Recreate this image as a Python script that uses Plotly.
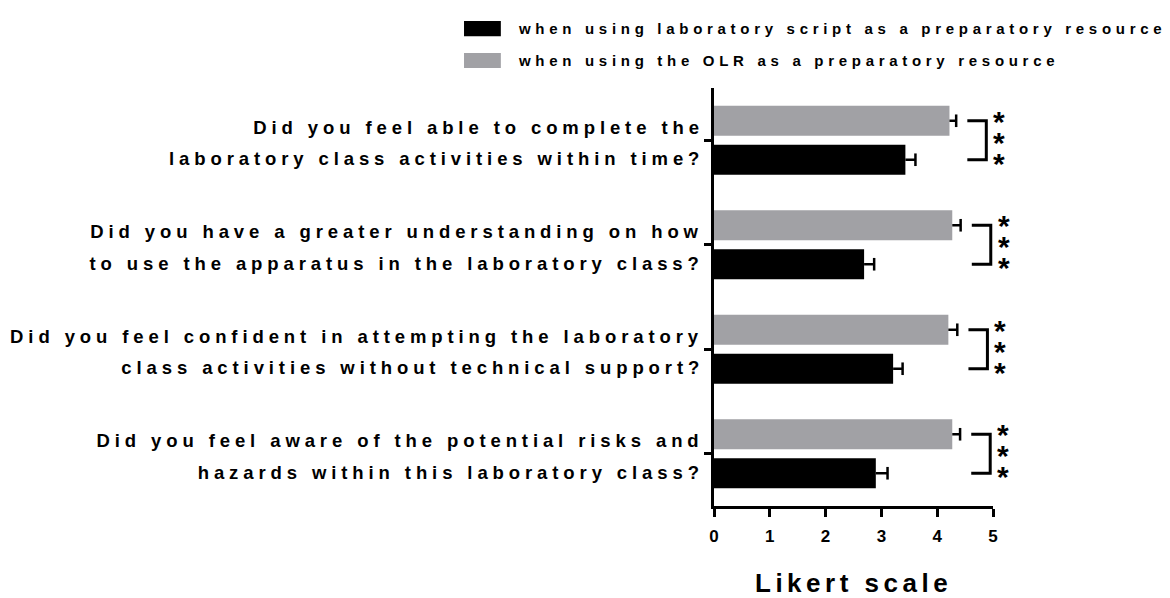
import json
import plotly.graph_objects as go

# ---------------- data ----------------
categories = [
    "Did you feel able to complete the\nlaboratory class activities within time?",
    "Did you have a greater understanding on how\nto use the apparatus in the laboratory class?",
    "Did you feel confident in attempting the laboratory\nclass activities without technical support?",
    "Did you feel aware of the potential risks and\nhazards within this laboratory class?",
]
script_mean = [3.43, 2.69, 3.21, 2.90]
script_err = [0.18, 0.18, 0.17, 0.21]
olr_mean = [4.22, 4.27, 4.20, 4.27]
olr_err = [0.12, 0.15, 0.16, 0.14]
significance = ["***", "***", "***", "***"]
series_names = [
    "when using laboratory script as a preparatory resource",
    "when using the OLR as a preparatory resource",
]
x_ticks = [0, 1, 2, 3, 4, 5]
x_title = "Likert scale"

# ---------------- style ----------------
BLACK = "#000000"
GREY = "#a1a1a5"
FONT = "Liberation Sans"
XMAX = 5.0
BARGAP = 0.254
GROUPGAP = 0.23
SLOT = (1 - BARGAP) / 2

pos = list(range(len(categories)))

fig = go.Figure()
# grey (OLR) first -> upper slot on reversed axis
fig.add_trace(go.Bar(y=pos, x=olr_mean, orientation="h", name=series_names[1],
                     marker=dict(color=GREY, line=dict(width=0)), showlegend=False))
fig.add_trace(go.Bar(y=pos, x=script_mean, orientation="h", name=series_names[0],
                     marker=dict(color=BLACK, line=dict(width=0)), showlegend=False))

# one-sided error bars (line + end cap)
for means, errs, sign in [(olr_mean, olr_err, -1), (script_mean, script_err, 1)]:
    fig.add_trace(go.Scatter(
        x=[m + e for m, e in zip(means, errs)],
        y=[p + sign * SLOT / 2 for p in pos],
        mode="markers",
        marker=dict(symbol="line-ns", size=9, color=BLACK, line=dict(width=2.5, color=BLACK)),
        error_x=dict(type="data", symmetric=False, array=[0] * len(errs), arrayminus=errs,
                     width=0, thickness=2.5, color=BLACK),
        showlegend=False, hoverinfo="skip"))

shapes = []
annotations = []
spacing = []   # letter spacing per annotation (px)
squeeze = []   # line-spacing compression factor per annotation (1 = none)

# category labels (two lines each)
for p, lab in zip(pos, categories):
    l1, l2 = lab.split("\n")
    for txt, ys in [(l1, 13), (l2, -18.5)]:
        annotations.append(dict(text=txt, xref="paper", yref="y", x=0, y=p,
                                xanchor="right", yanchor="middle", align="right",
                                xshift=-8, yshift=ys, showarrow=False,
                                font=dict(family=FONT, size=18.5, color=BLACK, weight="bold")))
        spacing.append(4.9)
        squeeze.append(1)

# significance brackets and stacked stars
for p, mo, eo, ms, es, sig in zip(pos, olr_mean, olr_err, script_mean, script_err, significance):
    top_end = max(mo + eo, ms + es)
    xl = (top_end + 0.2) / XMAX
    xr = (top_end + 0.54) / XMAX
    yg = p - SLOT / 2
    yb = p + SLOT / 2
    shapes.append(dict(type="path", xref="paper", yref="y",
                       path=f"M {xl},{yg} L {xr},{yg} L {xr},{yb} L {xl},{yb}",
                       line=dict(color=BLACK, width=3)))
    annotations.append(dict(text="<br>".join(sig), xref="paper", yref="y", x=xr, y=p,
                            xanchor="center", yanchor="middle", xshift=13, yshift=-2,
                            showarrow=False,
                            font=dict(family=FONT, size=30, color=BLACK, weight="bold")))
    spacing.append(0)
    squeeze.append(0.7 / 1.3)

# x axis title
annotations.append(dict(text=x_title, xref="paper", yref="paper", x=0.5, y=-0.184,
                        xanchor="center", yanchor="middle", showarrow=False,
                        font=dict(family=FONT, size=26, color=BLACK, weight="bold")))
spacing.append(4.5)
squeeze.append(1)

# custom legend
legend_rows = [(series_names[0], BLACK, 1.160, 1.124, 1.1435),
               (series_names[1], GREY, 1.0837, 1.0478, 1.0646)]
for name, col, y0, y1, yt in legend_rows:
    shapes.append(dict(type="rect", xref="paper", yref="paper", x0=-0.896, x1=-0.764,
                       y0=y1, y1=y0, fillcolor=col, line=dict(width=0)))
    annotations.append(dict(text=name, xref="paper", yref="paper", x=-0.7097, y=yt,
                            xanchor="left", yanchor="middle", align="left", showarrow=False,
                            font=dict(family=FONT, size=15, color=BLACK, weight="bold")))
    spacing.append(4.7)
    squeeze.append(1)

fig.update_layout(
    width=1170, height=598,
    margin=dict(l=714, r=177, t=88, b=92, autoexpand=False),
    paper_bgcolor="white", plot_bgcolor="white",
    barmode="group", bargap=BARGAP, bargroupgap=GROUPGAP,
    shapes=shapes, annotations=annotations, showlegend=False,
    font=dict(family=FONT, color=BLACK),
)
fig.update_xaxes(range=[0, XMAX], tickvals=x_ticks, ticks="outside", ticklen=8, tickwidth=2.5,
                 tickcolor=BLACK, showline=True, linewidth=2.5, linecolor=BLACK,
                 showgrid=False, zeroline=False, automargin=False, ticklabelstandoff=5,
                 tickfont=dict(family=FONT, size=17, color=BLACK, weight="bold"))
fig.update_yaxes(range=[len(pos) - 0.5, -0.5], tickvals=pos, showticklabels=False,
                 ticks="outside", ticklen=7, tickwidth=2.5, tickcolor=BLACK,
                 showline=True, linewidth=2.5, linecolor=BLACK,
                 showgrid=False, zeroline=False, automargin=False)

post = """
document.body.style.margin = '0';
document.body.style.overflow = 'hidden';
var sp = %s;
var sq = %s;
var gd = document.querySelector('.js-plotly-plot');
gd.querySelectorAll('g.annotation').forEach(function(g){
  var i = +g.getAttribute('data-index');
  var t = g.querySelector('text.annotation-text');
  if (!t) return;
  if (sp[i]) { t.style.letterSpacing = sp[i] + 'px'; }
  if (sq[i] && sq[i] !== 1) {
    var lines = t.querySelectorAll('tspan.line');
    if (lines.length > 1) {
      var vals = [];
      lines.forEach(function(l){ vals.push(parseFloat(l.getAttribute('dy') || '0')); });
      var mid = vals.reduce(function(a, b){ return a + b; }, 0) / vals.length;
      lines.forEach(function(l, k){
        l.setAttribute('dy', (mid + (vals[k] - mid) * sq[i]) + 'em');
      });
    }
  }
});
""" % (json.dumps(spacing), json.dumps(squeeze))

fig.write_html("out.html", post_script=post, config={"displayModeBar": False})
